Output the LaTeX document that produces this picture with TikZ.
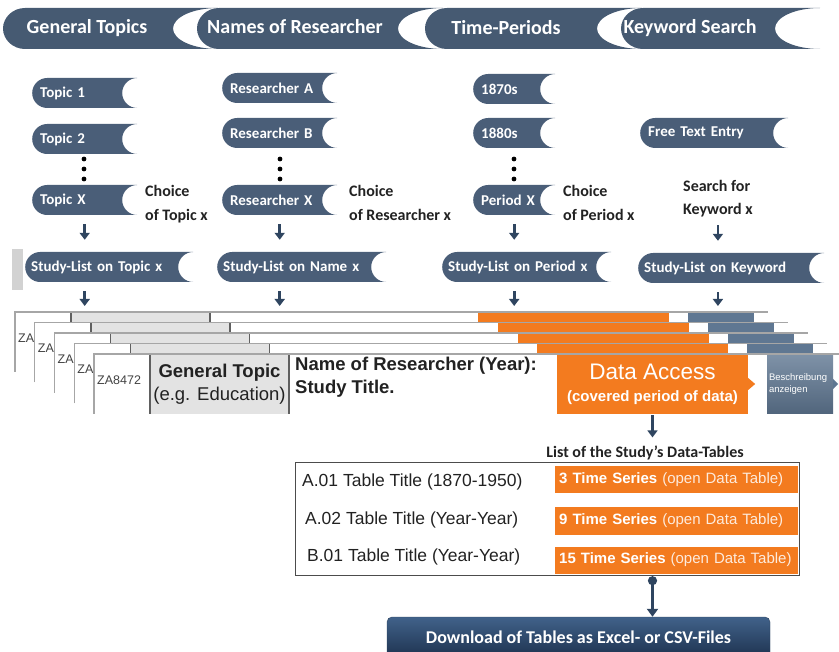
\documentclass[tikz,border=0pt]{standalone}
\usepackage{fontspec}
\setmainfont{Carlito}
\newfontfamily\arialfont{Liberation Sans}
\usetikzlibrary{arrows.meta, positioning, calc}

\definecolor{tabblue}{HTML}{465A72}
\definecolor{pillblue}{HTML}{4A5E78}
\definecolor{arrowblue}{HTML}{2F4560}
\definecolor{accessorange}{HTML}{F37B1F}
\definecolor{descrblue}{HTML}{5F7792}
\definecolor{cardgray}{HTML}{A6A6A6}
\definecolor{topicgray}{HTML}{E3E3E3}
\definecolor{darktext}{HTML}{222222}
\definecolor{downtop}{HTML}{41628A}
\definecolor{downbottom}{HTML}{1E3350}

\begin{document}
\begin{tikzpicture}[
		x=1pt, y=-1pt,
		tabtext/.style={text=white, font=\fontsize{20}{24}\selectfont\bfseries},
		pill/.style={fill=white, text=white, minimum height=30pt, inner xsep=8pt,
			inner ysep=0pt, text width={#1pt-16pt}, align=left, anchor=west,
			font=\fontsize{15}{18}\selectfont\bfseries,
			path picture={\fill[pillblue]
				let \p1=(path picture bounding box.north west),
				\p2=(path picture bounding box.south east),
				\n1={(\y1-\y2)/2} in
				({\x1+\n1*1pt},\y1) -- (\x2,\y1)
				arc[start angle=90, end angle=270, radius={\n1*1pt}]
				-- ({\x1+\n1*1pt},\y2)
				arc[start angle=270, end angle=90, radius={\n1*1pt}] -- cycle;}},
		choice/.style={text=darktext, align=left, anchor=north west, inner sep=0pt,
			font=\fontsize{16}{24}\selectfont\bfseries},
		arr/.style={-{Triangle[width=10pt,length=7pt]}, line width=2.6pt, draw=arrowblue},
		cardline/.style={draw=cardgray, line width=1.2pt},
		divider/.style={draw=gray!75!black, line width=1.5pt},
		idtext/.style={text=darktext!85, anchor=west, inner sep=0pt,
			font=\arialfont\fontsize{12.5}{15}\selectfont},
		rowtext/.style={text=darktext, anchor=west, inner sep=0pt,
			font=\arialfont\fontsize{17.5}{21}\selectfont},
		series/.style={fill=accessorange, text=white, anchor=west, minimum height=27pt,
			text width=235pt, inner xsep=4pt, align=left,
			font=\arialfont\fontsize{15}{18}\selectfont}
		]
		
		\useasboundingbox (0,0) rectangle (839,652);
		
		% Top tabs
		\foreach \xa/\xb in {3/218, 197/443, 425/642, 621/820}
		\fill[tabblue] ({\xa+22},8) -- (\xb,8)
		.. controls ({\xb-25},8) and ({\xb-45},17.2) .. ({\xb-45},28.5)
		.. controls ({\xb-45},39.8) and ({\xb-25},49) .. (\xb,49)
		-- ({\xa+22},49)
		.. controls ({\xa+10},49) and (\xa,39.8) .. (\xa,28.5)
		.. controls (\xa,17.2) and ({\xa+10},8) .. cycle;
		
		\node[tabtext] (tabTopics) at (87,28) {General Topics};
		\node[tabtext] (tabNames) at (295,27) {Names of Researcher};
		\node[tabtext] (tabPeriods) at (506,28) {Time-Periods};
		\node[tabtext] (tabKeyword) at (690,28) {Keyword Search};
		
		% Topics
		\node[pill=105] (topic1) at (32,93) {Topic 1};
		\node[pill=105] (topic2) at (32,139) {Topic 2};
		\node[pill=105] (topicX) at (32,200) {Topic X};
		\node[choice] (choiceTopic) at (145,185) {Choice\\of Topic x};
		
		% Researchers
		\node[pill=115] (resA) at (222,88) {Researcher A};
		\node[pill=115] (resB) at (222,133) {Researcher B};
		\node[pill=115] (resX) at (222,200) {Researcher X};
		\node[choice] (choiceName) at (349,185) {Choice\\of Researcher x};
		
		% Periods
		\node[pill=82] (per1870) at (473,89) {1870s};
		\node[pill=82] (per1880) at (473,133) {1880s};
		\node[pill=82] (perX) at (473,200) {Period X};
		\node[choice] (choicePeriod) at (563,185) {Choice\\of Period x};
		
		% Keyword
		\node[pill=148] (freeText) at (640,133) {Free Text Entry};
		\node[choice, font=\fontsize{16}{23}\selectfont\bfseries] (search) at (683,180) {Search for\\Keyword x};
		
		% Dots
		\foreach \x in {84,280,514}
		\foreach \y in {159,169,179}
		\fill[black] (\x,\y) circle[radius=2.4pt];
		
		% Study lists
		\fill[gray!35] (12,249) rectangle (23,290);
		\node[pill=172, inner xsep=6pt] (listTopic) at (25,267) {Study-List on Topic x};
		\node[pill=173, inner xsep=6pt] (listName) at (217,267) {Study-List on Name x};
		\node[pill=173, inner xsep=6pt] (listPeriod) at (442,267) {Study-List on Period x};
		\node[pill=190, inner xsep=6pt] (listKey) at (638,268) {Study-List on Keyword};
		
		\draw[arr, shorten <=9pt, shorten >=12pt] (topicX.south) -- (topicX.south |- listTopic.north);
		\draw[arr, shorten <=9pt, shorten >=12pt] (resX.south) -- (resX.south |- listName.north);
		\draw[arr, shorten <=9pt, shorten >=12pt] (perX.south) -- (perX.south |- listPeriod.north);
		\draw[arr, shorten <=8pt, shorten >=12pt] (search.south) -- (search.south |- listKey.north);
		
		\coordinate (cardtop) at (0,312);
		\draw[arr, shorten <=9pt, shorten >=6pt] (topicX.south |- listTopic.south) -- (topicX.south |- cardtop);
		\draw[arr, shorten <=9pt, shorten >=6pt] (resX.south |- listName.south) -- (resX.south |- cardtop);
		\draw[arr, shorten <=9pt, shorten >=6pt] (perX.south |- listPeriod.south) -- (perX.south |- cardtop);
		\draw[arr, shorten <=9pt, shorten >=6pt] (search.south |- listKey.south) -- (search.south |- cardtop);
		
		% Stacked study cards
		\foreach \i in {0,...,3} {
			\pgfmathsetmacro{\cardx}{15+19.75*\i}
			\pgfmathsetmacro{\cardy}{312+10.5*\i}
			\fill[white] (\cardx,\cardy) rectangle ++(760,60);
			\fill[topicgray] ({\cardx+56},\cardy) rectangle ++(139,60);
			\draw[divider] ({\cardx+56},\cardy) -- ++(0,60) ({\cardx+195},\cardy) -- ++(0,60);
			\fill[accessorange] ({\cardx+463},\cardy) rectangle ++(191,60);
			\fill[descrblue] ({\cardx+673},\cardy) rectangle ++(66,60);
			\node[idtext] (za\i) at ({\cardx+3},{\cardy+26}) {ZA8472};
			\draw[cardline] (\cardx,{\cardy+60}) -- (\cardx,\cardy) -- ++(753,0);
		}
		
		% Front card
		\fill[white] (94,354) rectangle ++(760,60);
		\node[idtext] (zaFront) at (97,380) {ZA8472};
		\node[fill=topicgray, minimum width=139pt, minimum height=60pt, inner sep=0pt,
		align=center, text=darktext, font=\arialfont\fontsize{18.5}{23}\selectfont]
		(topicCell) at (219.5,384) {\bfseries General Topic\\(e.g. Education)};
		\draw[divider] (topicCell.north west) -- (topicCell.south west)
		(topicCell.north east) -- (topicCell.south east);
		\node[anchor=north west, inner sep=0pt, align=left, text=darktext,
		font=\arialfont\fontsize{18.5}{23}\selectfont\bfseries]
		(studyTitle) at (295,357) {Name of Researcher (Year):\\Study Title.};
		\node[fill=accessorange, minimum width=191pt, minimum height=60pt, inner sep=0pt,
		align=center, text=white, font=\arialfont\fontsize{15}{22}\selectfont]
		(dataAccess) at (652.5,384) {{\fontsize{22.5}{26}\selectfont Data Access}\\
			{\bfseries (covered period of data)}};
		\fill[accessorange] ($(dataAccess.east)+(0,-6)$) -- ++(7,6) -- ++(-7,6) -- cycle;
		\node[top color=descrblue!80!white, bottom color=descrblue!85!black,
		minimum width=66pt, minimum height=60pt, inner xsep=2pt, text width=62pt,
		align=left, text=white, font=\arialfont\fontsize{9.5}{12}\selectfont]
		(descr) at (800,384) {Beschreibung\\anzeigen};
		\fill[descrblue] ($(descr.east)+(0,-5)$) -- ++(5,5) -- ++(-5,5) -- cycle;
		\draw[cardline] (94,414) -- (94,354) -- ++(760,0);
		
		% Data tables
		\node[font=\fontsize{16}{19}\selectfont\bfseries, text=darktext]
		(listTitle) at (645,453) {List of the Study’s Data-Tables};
		\draw[arr, shorten <=1pt, shorten >=5pt] (dataAccess.south) -- (dataAccess.south |- listTitle.north);
		
		\node[draw=gray!60!black, line width=1.2pt, minimum width=504pt, minimum height=113pt,
		anchor=north west, inner sep=0pt] (tableBox) at (295,462) {};
		\node[rowtext] (row1) at (302,482) {A.01 Table Title (1870-1950)};
		\node[rowtext] (row2) at (305,520) {A.02 Table Title (Year-Year)};
		\node[rowtext] (row3) at (307,557) {B.01 Table Title (Year-Year)};
		\node[series] (series1) at (555,480) {\textbf{3 Time Series} \textcolor{white!85!accessorange}{(open Data Table)}};
		\node[series] (series2) at (555,521) {\textbf{9 Time Series} \textcolor{white!85!accessorange}{(open Data Table)}};
		\node[series] (series3) at (555,560) {\textbf{15 Time Series} \textcolor{white!85!accessorange}{(open Data Table)}};
		
		% Download
		\node[top color=downtop, bottom color=downbottom, draw=arrowblue, rounded corners=5pt,
		minimum width=383pt, minimum height=40pt, text=white,
		font=\fontsize{18}{21}\selectfont\bfseries]
		(download) at (578.5,637) {Download of Tables as Excel- or CSV-Files};
		\draw[{Circle[length=9pt]}-{Triangle[width=11pt,length=8pt]}, line width=2.6pt, draw=arrowblue]
		(dataAccess.south |- tableBox.south) -- (dataAccess.south |- download.north);
		
	\end{tikzpicture}
\end{document}
